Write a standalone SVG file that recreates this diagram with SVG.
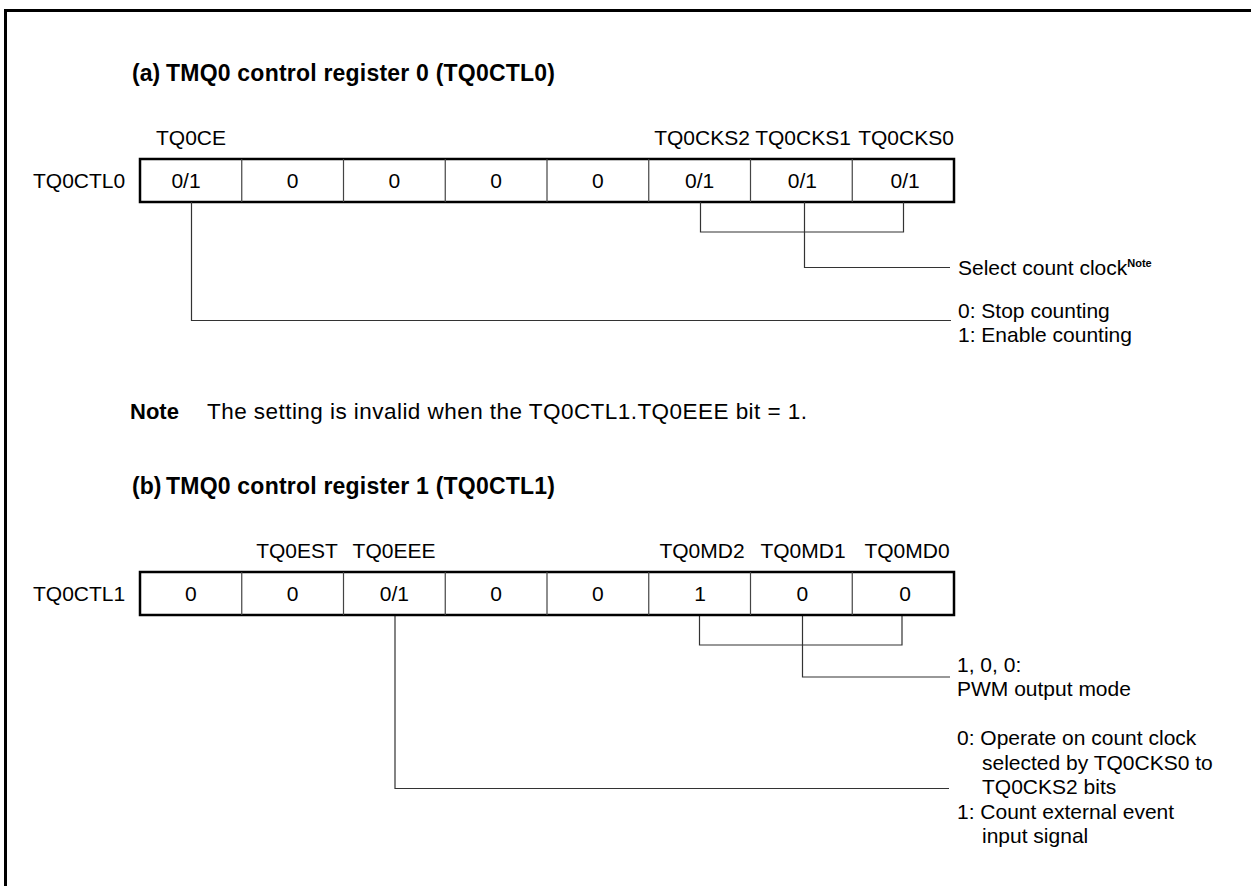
<svg xmlns="http://www.w3.org/2000/svg" width="1251" height="886" viewBox="0 0 1251 886">
<style>
text{font-family:"Liberation Sans",Arial,sans-serif;font-size:21px;fill:#000}
.b{font-weight:bold;font-size:22px}
.t{font-weight:bold;font-size:23px}
.n{font-size:22.5px}
.c{text-anchor:middle}
.box{fill:#fff;stroke:#000;stroke-width:2.5}
.div{stroke:#444;stroke-width:1.2}
.con{fill:none;stroke:#333;stroke-width:1.2}
.sup{font-size:11px;font-weight:bold}
</style>
<rect width="1251" height="886" fill="#fff"/>
<path d="M5.5 886V10.5H1251" fill="none" stroke="#000" stroke-width="3"/>

<g id="title-a"><text class="t" x="132" y="81">(a)</text><text class="t" x="166" y="81" textLength="389" lengthAdjust="spacing">TMQ0 control register 0 (TQ0CTL0)</text></g>

<g id="reg-a">
<text x="33" y="188">TQ0CTL0</text>
<text class="c" x="191" y="145">TQ0CE</text>
<text class="c" x="702" y="145">TQ0CKS2</text>
<text class="c" x="803" y="145">TQ0CKS1</text>
<text class="c" x="906" y="145">TQ0CKS0</text>
<rect class="box" x="140" y="159" width="814" height="43"/>
<path class="div" d="M241.75 159v43M343.5 159v43M445.25 159v43M547 159v43M648.75 159v43M750.5 159v43M852.25 159v43"/>
<text class="c" x="186" y="188">0/1</text>
<text class="c" x="292.6" y="188">0</text>
<text class="c" x="394.4" y="188">0</text>
<text class="c" x="496.1" y="188">0</text>
<text class="c" x="597.9" y="188">0</text>
<text class="c" x="699.6" y="188">0/1</text>
<text class="c" x="802.4" y="188">0/1</text>
<text class="c" x="905.2" y="188">0/1</text>
</g>

<g id="connectors">
<path class="con" d="M700.5 202v30H903.5V202M804.5 202v65.5H950"/>
<path class="con" d="M191.5 202v118.5H951"/>
<path class="con" d="M699.5 615v30H902V615M802.5 615v62H950"/>
<path class="con" d="M395 615v173.5H949"/>
</g>

<g id="desc-a1"><text x="958" y="275">Select count clock<tspan class="sup" dy="-8">Note</tspan></text></g>
<g id="desc-a2">
<text x="958" y="318">0: Stop counting</text>
<text x="958" y="342">1: Enable counting</text>
</g>

<g id="note"><text class="b" x="130" y="419">Note</text><text class="n" x="207" y="419" textLength="600" lengthAdjust="spacing">The setting is invalid when the TQ0CTL1.TQ0EEE bit = 1.</text></g>

<g id="title-b"><text class="t" x="132" y="494">(b)</text><text class="t" x="166" y="494" textLength="389" lengthAdjust="spacing">TMQ0 control register 1 (TQ0CTL1)</text></g>

<g id="reg-b">
<text x="33" y="601">TQ0CTL1</text>
<text class="c" x="297" y="558">TQ0EST</text>
<text class="c" x="394" y="558">TQ0EEE</text>
<text class="c" x="702" y="558">TQ0MD2</text>
<text class="c" x="803" y="558">TQ0MD1</text>
<text class="c" x="907" y="558">TQ0MD0</text>
<rect class="box" x="140" y="572" width="814" height="43"/>
<path class="div" d="M241.75 572v43M343.5 572v43M445.25 572v43M547 572v43M648.75 572v43M750.5 572v43M852.25 572v43"/>
<text class="c" x="190.9" y="601">0</text>
<text class="c" x="292.6" y="601">0</text>
<text class="c" x="394.4" y="601">0/1</text>
<text class="c" x="496.1" y="601">0</text>
<text class="c" x="597.9" y="601">0</text>
<text class="c" x="700" y="601">1</text>
<text class="c" x="802.4" y="601">0</text>
<text class="c" x="905.2" y="601">0</text>
</g>

<g id="desc-b1">
<text x="957" y="672">1, 0, 0:</text>
<text x="957" y="696">PWM output mode</text>
</g>
<g id="desc-b2">
<text x="957" y="745">0: Operate on count clock</text>
<text x="982" y="769.5">selected by TQ0CKS0 to</text>
<text x="982" y="794">TQ0CKS2 bits</text>
<text x="957" y="818.5">1: Count external event</text>
<text x="982" y="843">input signal</text>
</g>
</svg>
